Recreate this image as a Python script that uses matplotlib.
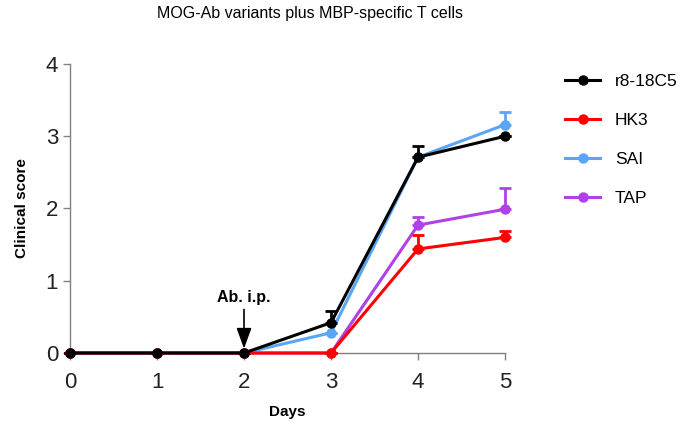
import matplotlib
matplotlib.use("Agg")
import matplotlib.pyplot as plt
from matplotlib.lines import Line2D

plt.rcParams['font.family'] = ['Liberation Sans', 'DejaVu Sans']

days = [0, 1, 2, 3, 4, 5]
groups = ["r8-18C5", "HK3", "SAI", "TAP"]
colors = ["#000000", "#ff0000", "#5aa5f5", "#b040e8"]

mean_r8 = [0, 0, 0, 0.42, 2.71, 3.0]
err_r8 = [0, 0, 0, 0.16, 0.15, 0.0]
mean_hk3 = [0, 0, 0, 0, 1.44, 1.60]
err_hk3 = [0, 0, 0, 0, 0.20, 0.09]
mean_sai = [0, 0, 0, 0.28, 2.71, 3.16]
err_sai = [0, 0, 0, 0, 0, 0.17]
mean_tap = [0, 0, 0, 0, 1.77, 1.99]
err_tap = [0, 0, 0, 0, 0.11, 0.29]

means = [mean_r8, mean_hk3, mean_sai, mean_tap]
errs = [err_r8, err_hk3, err_sai, err_tap]

fig = plt.figure(figsize=(6.81, 4.34), dpi=100)
ax = fig.add_axes([0.1028, 0.1866, 0.6388, 0.666])

# purple first, black last so it sits on top
order = [3, 2, 1, 0]
for z, i in enumerate(order):
    ax.errorbar(days, means[i], yerr=[[0] * len(days), errs[i]], color=colors[i],
                lw=2.2, marker="o", markersize=6.5, capsize=4, capthick=2,
                elinewidth=2, clip_on=False, zorder=3 + z * 0.1)

ax.annotate("Ab. i.p.", xy=(2, 0.06), xytext=(2, 0.66),
            ha="center", va="bottom", fontsize=11.5, fontweight="bold",
            arrowprops=dict(arrowstyle="-|>,head_length=1.1,head_width=0.4",
                            color="black", lw=1.2, shrinkA=1, shrinkB=0))

ax.set_xlim(0, 5)
ax.set_ylim(0, 4)
ax.set_xticks(days)
ax.set_yticks([0, 1, 2, 3, 4])
ax.spines["top"].set_visible(False)
ax.spines["right"].set_visible(False)
for s in ["left", "bottom"]:
    ax.spines[s].set_color("#808080")
    ax.spines[s].set_linewidth(1)
ax.tick_params(axis="both", colors="#808080", labelcolor="#222222",
               labelsize=16, length=5, width=1, direction="out")
ax.tick_params(axis="x", pad=9)
ax.set_xlabel("Days", fontsize=11, fontweight="bold", labelpad=8)
ax.set_ylabel("Clinical score", fontsize=11, fontweight="bold", labelpad=12)

fig.text(0.455, 0.97, "MOG-Ab variants plus MBP-specific T cells",
         ha="center", va="center", fontsize=11.5)

handles = [Line2D([0], [0], color=c, lw=2.2, marker="o", markersize=6.5)
           for c in colors]
fig.legend(handles, groups, loc="upper left", bbox_to_anchor=(0.83, 0.83),
           frameon=False, fontsize=12.5, handlelength=2.0, labelspacing=1.37,
           handletextpad=0.85, borderaxespad=0, borderpad=0)

fig.savefig("out.png", dpi=100)
